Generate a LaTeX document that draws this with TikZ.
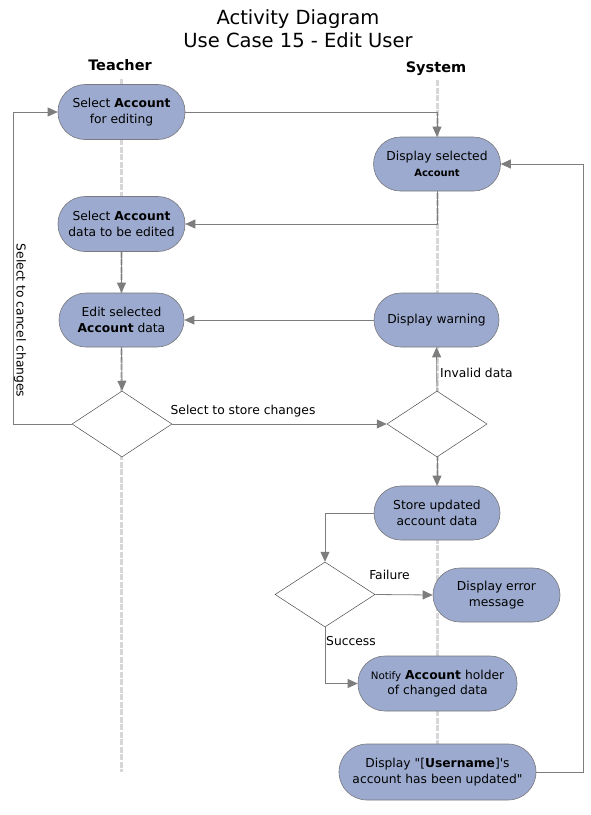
\documentclass[tikz,border=0pt]{standalone}
\usepackage{fontspec}
\setmainfont{DejaVu Sans}
\usetikzlibrary{arrows.meta,shapes.geometric}
\definecolor{actfill}{RGB}{155,170,206}
\definecolor{actdraw}{RGB}{120,120,125}
\definecolor{conn}{RGB}{125,125,125}
\definecolor{life}{RGB}{215,215,218}
\tikzset{
  act/.style={draw=actdraw, fill=actfill, line width=0.6pt, rectangle, rounded corners=27pt,
    minimum width=127pt, minimum height=55pt, inner sep=0pt, align=center,
    font=\fontsize{12.3}{15.5}\selectfont},
  dec/.style={draw=black!70, fill=white, diamond, line width=0.5pt, minimum width=100pt, minimum height=66pt, inner sep=0pt},
  flow/.style={draw=conn, line width=0.8pt, -{Triangle[length=10pt,width=9pt]}},
  lifeline/.style={draw=life, line width=3pt, dash pattern=on 6pt off 1.5pt},
  lbl/.style={font=\fontsize{12.3}{14}\selectfont, inner sep=0pt},
  lane/.style={font=\bfseries\fontsize{14.5}{16}\selectfont, inner sep=0pt}
}
\begin{document}
\begin{tikzpicture}[x=1pt,y=-1pt]
\useasboundingbox (0,0) rectangle (590,815);
% title
\node[font=\fontsize{19.5}{23}\selectfont, align=center, inner sep=0pt] (title) at (298,29) {Activity Diagram\\Use Case 15 - Edit User};
\node[lane] (teacher) at (120,65) {Teacher};
\node[lane] (system) at (436,69) {System};
% lifelines
\coordinate (tl1) at (121,79);
\coordinate (tl2) at (121,772);
\coordinate (sl1) at (437,80);
\coordinate (sl2) at (437,765);
\draw[lifeline] (tl1) -- (tl2);
\draw[lifeline] (sl1) -- (sl2);
% activities
\node[act] (n1) at (121.5,112) {Select \textbf{Account}\\for editing};
\node[act, minimum height=54pt] (n2) at (437,164) {Display selected\\{\bfseries\fontsize{10}{12}\selectfont Account}};
\node[act] (n3) at (121.5,224) {Select \textbf{Account}\\data to be edited};
\node[act, minimum width=125pt, minimum height=54pt] (n4) at (121.5,320) {Edit selected\\\textbf{Account} data};
\node[act, minimum width=125pt, minimum height=54pt] (n5) at (436.5,320) {Display warning};
\node[dec] (d1) at (122,424) {};
\node[dec] (d2) at (437,424) {};
\node[act, minimum width=126pt, minimum height=54pt] (n8) at (437,513) {Store updated\\account data};
\node[dec, minimum height=65pt] (d3) at (325,594.5) {};
\node[act, minimum width=127pt, minimum height=54pt] (n10) at (496.5,595) {Display error\\message};
\node[act, minimum width=159pt] (n11) at (437.5,683.5) {{\fontsize{10.3}{12}\selectfont Notify} \textbf{Account} holder\\of changed data};
\node[act, minimum width=197pt, minimum height=56pt, rounded corners=28pt] (n12) at (437.5,772) {Display \textquotedbl[\textbf{Username}]\textquotesingle s\\account has been updated\textquotedbl};
% connectors
\draw[flow] (n1.east) -| (n2.north);
\draw[flow] (n2.south) |- (n3.east);
\draw[flow] (n3.south) -- (n4.north);
\draw[flow] (n4.south) -- (d1.north);
\draw[flow] (d1.east) -- node[lbl, above=7pt, pos=0.33] (lstore) {Select to store changes} (d2.west);
\coordinate (cc) at (13,424);
\draw[flow] (d1.west) -- (cc) |- (n1.west);
\node[lbl, rotate=-90] (lcancel) at (20,320.5) {Select to cancel changes};
\draw[flow] (d2.north) -- (n5.south);
\node[lbl, anchor=west] (linvalid) at (440,373) {Invalid data};
\draw[flow] (n5.west) -- (n4.east);
\draw[flow] (d2.south) -- (n8.north);
\draw[flow] (n8.west) -| (d3.north);
\draw[flow] (d3.east) -- (n10.west);
\node[lbl] (lfail) at (389.5,575) {Failure};
\draw[flow] (d3.south) |- (n11.west);
\node[lbl, anchor=west] (lsucc) at (326,641) {Success};
\coordinate (rr) at (583,772);
\draw[flow] (n12.east) -- (rr) |- (n2.east);
\end{tikzpicture}
\end{document}
